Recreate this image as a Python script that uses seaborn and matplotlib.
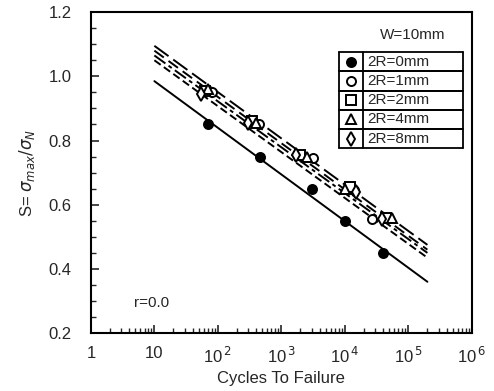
import matplotlib
matplotlib.use("Agg")
import matplotlib.pyplot as plt
import seaborn as sns
import pandas as pd
import numpy as np

# test data (cycles to failure, S = smax/sN)
labels = ["2R=0mm", "2R=1mm", "2R=2mm", "2R=4mm", "2R=8mm"]
markers = ["o", "o", "s", "^", "d"]
filled = [True, False, False, False, False]

cycles_0 = [70, 460, 3000, 10000, 40000]
s_0 = [0.85, 0.75, 0.65, 0.55, 0.45]
cycles_1 = [80, 450, 3200, 14000, 27000]
s_1 = [0.95, 0.85, 0.745, 0.645, 0.555]
cycles_2 = [62, 350, 2000, 12000, 45000]
s_2 = [0.955, 0.86, 0.755, 0.655, 0.56]
cycles_4 = [70, 400, 2500, 10000, 55000]
s_4 = [0.96, 0.855, 0.75, 0.65, 0.56]
cycles_8 = [55, 300, 1700, 15000, 38000]
s_8 = [0.945, 0.855, 0.755, 0.64, 0.555]

# fitted S-N lines: value at N=10 and at N=2e5
fit_n = [10, 2e5]
fit_0 = [0.985, 0.36]
fit_1 = [1.095, 0.475]
fit_2 = [1.08, 0.46]
fit_4 = [1.065, 0.45]
fit_8 = [1.05, 0.435]

xtick_vals = [1, 10, 1e2, 1e3, 1e4, 1e5, 1e6]
xtick_labels = ["1", "10", "10$^{\\,2}$", "10$^{\\,3}$", "10$^{\\,4}$", "10$^{\\,5}$", "10$^{\\,6}$"]

sns.set_style("ticks")
plt.rcParams["font.family"] = ["Liberation Sans", "DejaVu Sans"]
plt.rcParams["mathtext.fontset"] = "dejavusans"

fig = plt.figure(figsize=(4.94, 3.91), dpi=100)
ax = fig.add_axes([0.184, 0.148, 0.771, 0.821])

pts = pd.DataFrame({
    "N": cycles_0 + cycles_1 + cycles_2 + cycles_4 + cycles_8,
    "S": s_0 + s_1 + s_2 + s_4 + s_8,
    "size": sum([[l] * 5 for l in labels], []),
})
fits = pd.DataFrame({
    "N": fit_n * 5,
    "S": fit_0 + fit_1 + fit_2 + fit_4 + fit_8,
    "size": sum([[l] * 2 for l in labels], []),
})

dash_styles = ["-", (0, (9, 3)), (0, (6, 3)), (0, (7, 2, 2, 2)), (0, (4, 2))]
for lab, ls in zip(labels, dash_styles):
    sns.lineplot(data=fits[fits["size"] == lab], x="N", y="S", ax=ax,
                 color="black", lw=1.4, linestyle=ls, legend=False)

def msize(m):
    return 7.5 if m == "d" else 6.5

for lab, m, f in zip(labels, markers, filled):
    sub = pts[pts["size"] == lab]
    ax.plot(sub["N"], sub["S"], linestyle="none", marker=m, ms=msize(m),
            mfc="black" if f else "white", mec="black", mew=1.4, zorder=3)

ax.set_xscale("log")
ax.set_xlim(1, 1e6)
ax.set_ylim(0.2, 1.2)
ax.set_xticks(xtick_vals)
ax.set_xticklabels(xtick_labels)
ax.set_yticks([0.2, 0.4, 0.6, 0.8, 1.0, 1.2])
ax.set_yticklabels(["0.2", "0.4", "0.6", "0.8", "1.0", "1.2"])
ax.yaxis.set_minor_locator(matplotlib.ticker.MultipleLocator(0.05))
ax.tick_params(which="both", direction="in", top=False, right=False, labelsize=12)
ax.tick_params(which="major", length=6, width=1.2)
ax.tick_params(which="minor", length=3.5, width=1.0)
ax.tick_params(axis="x", pad=9)
ax.tick_params(axis="y", pad=14)
for sp in ax.spines.values():
    sp.set_linewidth(1.5)
    sp.set_color("black")

ax.set_xlabel("Cycles To Failure", fontsize=12, labelpad=4)
ax.set_ylabel(r"S= $\sigma_{max}/\sigma_N$", fontsize=12, labelpad=8)

ax.text(0.16, 0.095, "r=0.0", transform=ax.transAxes, fontsize=11, ha="center", va="center")
ax.text(0.845, 0.93, "W=10mm", transform=ax.transAxes, fontsize=11, ha="center", va="center")

# legend drawn as a small bordered table
def px_to_ax(px, py):
    return (px - 91) / 380, (333 - py) / 321

x0, xd, x1 = 339, 362, 462
ytop, rowh = 52, 19.2
kw = dict(transform=ax.transAxes, color="black", lw=1.3, clip_on=False)
for i, (lab, m, f) in enumerate(zip(labels, markers, filled)):
    yt = ytop + i * rowh
    yc = yt + rowh / 2
    for yy in (yt, yt + rowh):
        (ax0, ay), (ax1_, _) = px_to_ax(x0, yy), px_to_ax(x1, yy)
        ax.plot([ax0, ax1_], [ay, ay], **kw)
    mx, my = px_to_ax((x0 + xd) / 2, yc)
    ax.plot([mx], [my], marker=m, ms=msize(m), mfc="black" if f else "white",
            mec="black", mew=1.4, transform=ax.transAxes, linestyle="none")
    tx, ty = px_to_ax(xd + 5, yc)
    ax.text(tx, ty, lab, transform=ax.transAxes, fontsize=11, va="center", ha="left")
for xx in (x0, xd, x1):
    (axx, ay0), (_, ay1) = px_to_ax(xx, ytop), px_to_ax(xx, ytop + 5 * rowh)
    ax.plot([axx, axx], [ay0, ay1], **kw)

fig.savefig("out.png", dpi=100)
